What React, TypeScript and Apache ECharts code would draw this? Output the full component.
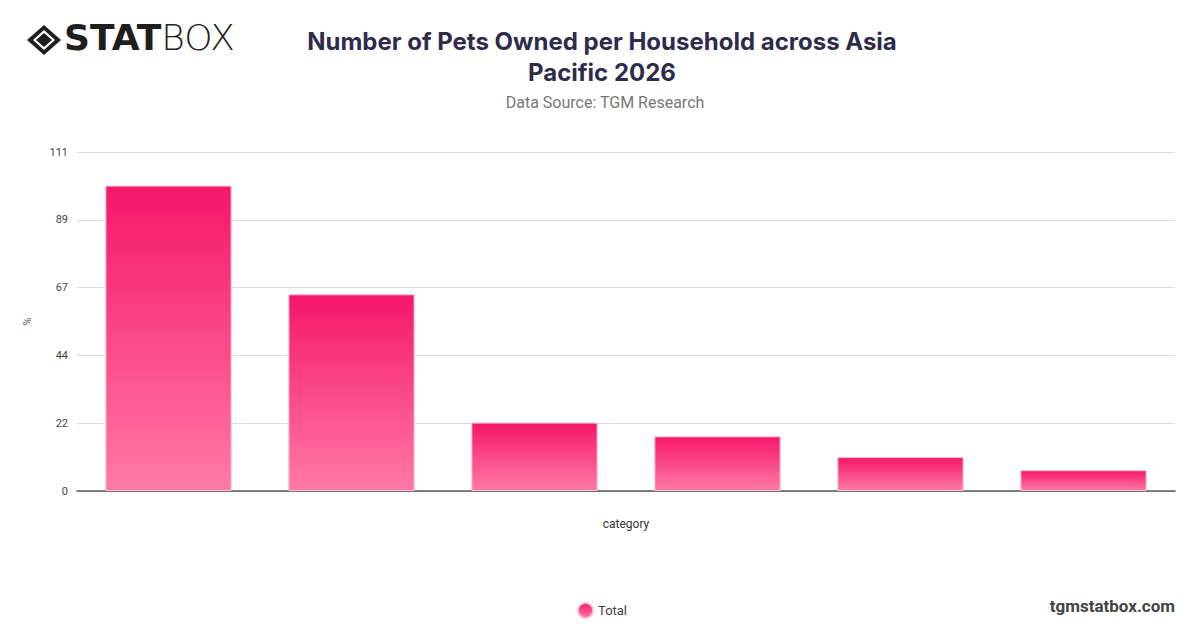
import React, { useEffect, useRef } from "react";
import * as echarts from "echarts";

const categories = ["1", "2", "3", "4", "5", "6+"];
const totalValues = [100, 64.4, 22.4, 17.9, 11.1, 6.8];
const yMax = 111;
const yInterval = 22.2;

export default function App() {
  const ref = useRef<HTMLDivElement>(null);
  useEffect(() => {
    if (!ref.current) return;
    const chart = echarts.init(ref.current, undefined, { renderer: "svg" });
    const makeGradient = () =>
      new echarts.graphic.LinearGradient(0, 0, 0, 1, [
        { offset: 0, color: "#f5176a" },
        { offset: 1, color: "#ff7aa6" },
      ]);
    chart.setOption({
      animation: false,
      backgroundColor: "#ffffff",
      title: [
        {
          text: "Number of Pets Owned per Household across Asia\nPacific 2026",
          left: 597,
          textAlign: "center",
          top: 21,
          textStyle: {
            fontFamily: "Inter",
            fontSize: 24,
            fontWeight: "bold",
            color: "#2e2b4b",
            lineHeight: 31,
          },
        },
        {
          text: "Data Source: TGM Research",
          left: 600,
          textAlign: "center",
          top: 89,
          textStyle: {
            fontFamily: "Roboto",
            fontSize: 16,
            fontWeight: "normal",
            color: "#777777",
          },
        },
      ],
      legend: {
        bottom: 4,
        left: 572,
        icon: "circle",
        itemWidth: 15,
        itemHeight: 15,
        textStyle: { fontFamily: "Roboto", fontSize: 13, color: "#444" },
        data: [{ name: "Total", itemStyle: { color: makeGradient() } }],
      },
      grid: { left: 77, right: 25, top: 152, bottom: 137 },
      xAxis: {
        type: "category",
        data: categories,
        name: "category",
        nameLocation: "middle",
        nameGap: 27,
        nameTextStyle: { fontFamily: "Roboto", fontSize: 12, color: "#333" },
        axisLabel: { show: false },
        axisTick: { show: false },
        axisLine: { lineStyle: { color: "#555", width: 1.5 } },
      },
      yAxis: {
        type: "value",
        min: 0,
        max: yMax,
        interval: yInterval,
        name: "%",
        nameLocation: "middle",
        nameGap: 44,
        nameTextStyle: { fontFamily: "Roboto", fontSize: 11, color: "#666" },
        axisLabel: {
          fontFamily: "Roboto",
          fontSize: 11,
          color: "#444",
          margin: 9,
          formatter: (v: number) => String(Math.round(v)),
        },
        splitLine: { lineStyle: { color: "#dddddd" } },
        axisLine: { show: false },
        axisTick: { show: false },
      },
      series: [
        {
          name: "Total",
          type: "bar",
          data: totalValues,
          barCategoryGap: "31%",
          itemStyle: {
            color: makeGradient(),
            borderColor: "#ffc2d8",
            borderWidth: 1,
          },
        },
      ],
      graphic: [
        {
          type: "group",
          left: 27,
          top: 25,
          children: [
            {
              type: "polygon",
              shape: { points: [[17, 0], [34, 15], [17, 30], [0, 15]] },
              style: { fill: "#1e1e1e" },
            },
            {
              type: "polygon",
              shape: { points: [[17, 5], [28, 15], [17, 25], [6, 15]] },
              style: { fill: "#ffffff" },
            },
            {
              type: "polygon",
              shape: { points: [[17, 8], [25, 15], [17, 22], [9, 15]] },
              style: { fill: "#1e1e1e" },
            },
          ],
        },
        {
          type: "text",
          left: 64,
          top: 19,
          style: {
            text: "{a|STAT}{b|BOX}",
            rich: {
              a: { fontFamily: "DejaVu Sans", fontWeight: "bold", fontSize: 36, fill: "#1e1e1e" },
              b: { fontFamily: "DejaVu Sans", fontWeight: 200, fontSize: 36, fill: "#1e1e1e" },
            },
          },
        },
        {
          type: "text",
          right: 25,
          top: 597,
          style: {
            text: "tgmstatbox.com",
            fontFamily: "Roboto",
            fontWeight: "bold",
            fontSize: 17,
            fill: "#444444",
          },
        },
      ],
    });
    return () => chart.dispose();
  }, []);
  return <div ref={ref} style={{ width: 1200, height: 628, margin: -8 }} />;
}
